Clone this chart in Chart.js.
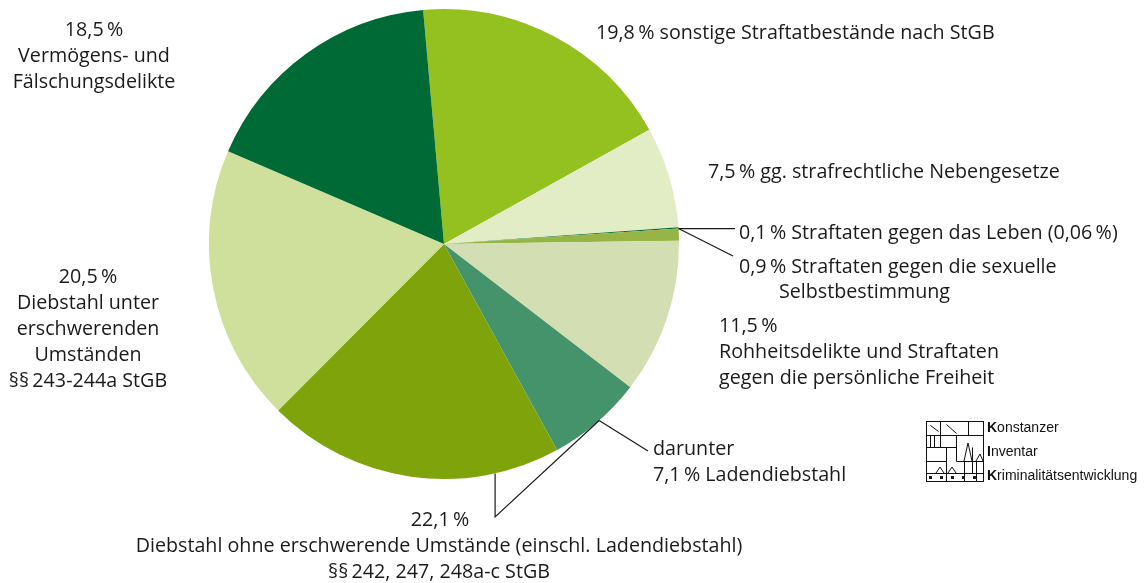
<!DOCTYPE html>
<html lang="de">
<head>
<meta charset="utf-8">
<title>Straftaten nach Deliktsgruppen</title>
<script src="https://cdn.jsdelivr.net/npm/chart.js@4.4.1/dist/chart.umd.min.js"></script>
<style>
  html, body { margin: 0; padding: 0; background: #fff; }
  #wrap { position: relative; width: 1145px; height: 583px; }
</style>
</head>
<body>
<div id="wrap"><canvas id="pie" width="1145" height="583"></canvas></div>
<script>
// slices clockwise from the top (as drawn in the original graphic)
const categories = [
    'sonstige Straftatbestände nach StGB',
    'gg. strafrechtliche Nebengesetze',
    'Straftaten gegen das Leben',
    'Straftaten gegen die sexuelle Selbstbestimmung',
    'Rohheitsdelikte und Straftaten gegen die persönliche Freiheit',
    'Ladendiebstahl',
    'Diebstahl ohne erschwerende Umstände',
    'Diebstahl unter erschwerenden Umständen',
    'Vermögens- und Fälschungsdelikte'
];
const shares = [19.8, 7.5, 0.1, 0.9, 11.5, 7.1, 22.1, 20.5, 18.5];
const sliceColors = [
    '#94c11f', '#e2edc5', '#006a36', '#97b547', '#d3dfb3',
    '#44936a', '#7fa30b', '#cfe09c', '#006a37'
];

// label texts, one block per slice group
const labelBlocks = [
    { lines: ['18,5\u2009%', 'Vermögens- und', 'Fälschungsdelikte'], x: 94, y: 30, align: 'center' },
    { lines: ['19,8\u2009% sonstige Straftatbestände nach StGB'], x: 596, y: 33, align: 'left' },
    { lines: ['7,5\u2009% gg. strafrechtliche Nebengesetze'], x: 708, y: 172, align: 'left' },
    { lines: ['0,1\u2009% Straftaten gegen das Leben (0,06\u2009%)'], x: 739, y: 233, align: 'left' },
    { lines: ['0,9\u2009% Straftaten gegen die sexuelle'], x: 739, y: 267, align: 'left' },
    { lines: ['Selbstbestimmung'], x: 779, y: 292, align: 'left' },
    { lines: ['11,5\u2009%', 'Rohheitsdelikte und Straftaten', 'gegen die persönliche Freiheit'], x: 719, y: 326, align: 'left' },
    { lines: ['darunter', '7,1\u2009% Ladendiebstahl'], x: 653, y: 449, align: 'left' },
    { lines: ['20,5\u2009%', 'Diebstahl unter', 'erschwerenden', 'Umständen', '§§\u2009243-244a StGB'], x: 88, y: 277, align: 'center' },
    { lines: ['22,1\u2009%'], x: 440, y: 520, align: 'center' },
    { lines: ['Diebstahl ohne erschwerende Umstände (einschl. Ladendiebstahl)', '§§\u2009242, 247, 248a-c StGB'], x: 439, y: 546, align: 'center' }
];

const FONT = '19.7px "Open Sans", "Noto Sans", sans-serif';
const LINE_H = 26;

function outerPoint(arc, frac) {
    const a = arc.startAngle + (arc.endAngle - arc.startAngle) * frac;
    return { x: arc.x + Math.cos(a) * arc.outerRadius, y: arc.y + Math.sin(a) * arc.outerRadius };
}

function line(ctx, pts) {
    ctx.beginPath();
    ctx.moveTo(pts[0].x, pts[0].y);
    for (let i = 1; i < pts.length; i++) ctx.lineTo(pts[i].x, pts[i].y);
    ctx.stroke();
}

const labelPlugin = {
    id: 'labels',
    afterDraw(chart) {
        const ctx = chart.ctx;
        const arcs = chart.getDatasetMeta(0).data;
        ctx.save();

        // leader lines
        ctx.strokeStyle = '#1a1a1a';
        ctx.lineWidth = 1.2;
        const leben = outerPoint(arcs[2], 1.0);
        line(ctx, [leben, { x: 735, y: leben.y }]);
        line(ctx, [leben, { x: 733, y: 256 }]);
        const laden = outerPoint(arcs[5], 0.47);
        line(ctx, [laden, { x: 648, y: 451 }]);
        const ohne = outerPoint(arcs[6], 0.22);
        line(ctx, [ohne, { x: ohne.x, y: 517 }, laden]);

        // labels
        ctx.fillStyle = '#1a1a1a';
        ctx.font = FONT;
        ctx.textBaseline = 'middle';
        labelBlocks.forEach(b => {
            ctx.textAlign = b.align;
            b.lines.forEach((t, i) => ctx.fillText(t, b.x, b.y + i * LINE_H));
        });

        drawLogo(ctx);
        ctx.restore();
    }
};

// small KIK logo in the lower right corner
function drawLogo(ctx) {
    const x0 = 926, y0 = 421, w = 57, h = 60;
    ctx.strokeStyle = '#111';
    ctx.lineWidth = 1;
    ctx.strokeRect(x0 + 0.5, y0 + 0.5, w, h);
    const segs = [
        [0, 14, 57, 14], [0, 26, 30, 26], [0, 40, 20, 40], [0, 52, 57, 52],
        [14, 0, 14, 26], [20, 26, 20, 60], [30, 14, 30, 40], [42, 0, 42, 14],
        [4, 4, 12, 10], [20, 3, 30, 12], [30, 40, 57, 40], [46, 26, 46, 52],
        [38, 40, 38, 60], [50, 40, 50, 60], [4, 14, 4, 26], [8, 14, 8, 26]
    ];
    ctx.beginPath();
    segs.forEach(s => {
        ctx.moveTo(x0 + s[0] + 0.5, y0 + s[1] + 0.5);
        ctx.lineTo(x0 + s[2] + 0.5, y0 + s[3] + 0.5);
    });
    // little roofs / spire
    ctx.moveTo(x0 + 10, y0 + 52); ctx.lineTo(x0 + 14, y0 + 46); ctx.lineTo(x0 + 18, y0 + 52);
    ctx.moveTo(x0 + 22, y0 + 52); ctx.lineTo(x0 + 26, y0 + 46); ctx.lineTo(x0 + 30, y0 + 52);
    ctx.moveTo(x0 + 38, y0 + 40); ctx.lineTo(x0 + 42, y0 + 22); ctx.lineTo(x0 + 46, y0 + 40);
    ctx.moveTo(x0 + 50, y0 + 40); ctx.lineTo(x0 + 54, y0 + 33); ctx.lineTo(x0 + 57, y0 + 40);
    ctx.stroke();
    for (let i = 0; i < 5; i++) ctx.fillRect(x0 + 3 + i * 11, y0 + 55, 3, 3);

    ctx.fillStyle = '#111';
    ctx.textAlign = 'left';
    ctx.textBaseline = 'middle';
    const words = [['K', 'onstanzer', 428], ['I', 'nventar', 452], ['K', 'riminalitätsentwicklung', 476]];
    words.forEach(w => {
        ctx.font = 'bold 14px "Liberation Sans", Arial, sans-serif';
        ctx.fillText(w[0], 987, w[2]);
        const dx = ctx.measureText(w[0]).width;
        ctx.font = '14px "Liberation Sans", Arial, sans-serif';
        ctx.fillText(w[1], 987 + dx, w[2]);
    });
}

new Chart(document.getElementById('pie'), {
    type: 'pie',
    data: {
        labels: categories,
        datasets: [{
            data: shares,
            backgroundColor: sliceColors,
            borderWidth: 0
        }]
    },
    options: {
        responsive: false,
        animation: false,
        rotation: -5.1,
        layout: { padding: { left: 209, right: 466, top: 9, bottom: 104 } },
        plugins: {
            legend: { display: false },
            tooltip: { enabled: false }
        }
    },
    plugins: [labelPlugin]
});
</script>
</body>
</html>
